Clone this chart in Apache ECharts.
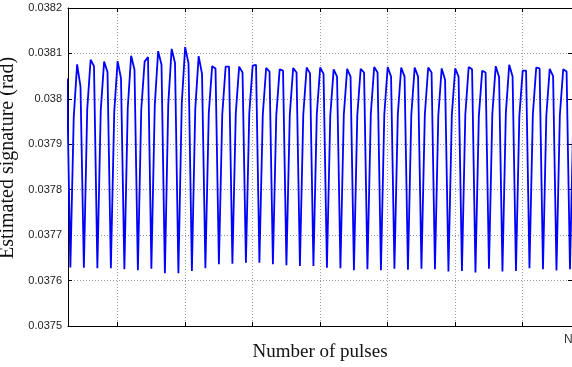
<!DOCTYPE html>
<html>
<head>
<meta charset="utf-8">
<script src="https://cdn.jsdelivr.net/npm/echarts@6/dist/echarts.min.js"></script>
<style>
  html, body { margin: 0; padding: 0; background: #fff; }
  #chart { width: 572px; height: 367px; }
</style>
</head>
<body>
<div id="chart"></div>
<script>
  // pulse index of the first sample drawn, and its value
  var firstPulse = 5;
  var firstValue = 0.038045;

  // one cycle = trough, rise, peak, fall (4 pulses)
  var troughVals = [
    0.037629, 0.037628, 0.037627, 0.037627, 0.037625, 0.037623, 0.037626, 0.037616,
    0.037616, 0.037621, 0.037627, 0.037636, 0.037637, 0.037639, 0.037639, 0.037636,
    0.037634, 0.037632, 0.037632, 0.037628, 0.037627, 0.037623, 0.037625, 0.037623,
    0.037626, 0.037624, 0.037626, 0.037625, 0.037620, 0.037621, 0.037618, 0.037626,
    0.037620, 0.037621, 0.037627, 0.037625, 0.037622, 0.037625
  ];
  var riseVals = [
    0.037960, 0.037978, 0.037975, 0.037972, 0.037980, 0.037976, 0.037985, 0.037988,
    0.037990, 0.037978, 0.037968, 0.037966, 0.037968, 0.037968, 0.037965, 0.037964,
    0.037965, 0.037966, 0.037966, 0.037964, 0.037965, 0.037964, 0.037966, 0.037966,
    0.037965, 0.037965, 0.037965, 0.037964, 0.037964, 0.037966, 0.037962, 0.037967,
    0.037968, 0.037962, 0.037965, 0.037964, 0.037964, 0.037965
  ];
  var peakVals = [
    0.038076, 0.038086, 0.038082, 0.038083, 0.038095, 0.038082, 0.038105, 0.038110,
    0.038114, 0.038094, 0.038072, 0.038071, 0.038071, 0.038073, 0.038068, 0.038065,
    0.038068, 0.038069, 0.038069, 0.038065, 0.038066, 0.038066, 0.038070, 0.038070,
    0.038069, 0.038069, 0.038069, 0.038067, 0.038067, 0.038070, 0.038062, 0.038072,
    0.038075, 0.038062, 0.038069, 0.038066, 0.038065
  ];
  var fallVals = [
    0.038027, 0.038072, 0.038059, 0.038045, 0.038064, 0.038092, 0.038075, 0.038079,
    0.038078, 0.038055, 0.038067, 0.038071, 0.038058, 0.038075, 0.038060, 0.038062,
    0.038058, 0.038056, 0.038055, 0.038049, 0.038049, 0.038058, 0.038058, 0.038049,
    0.038049, 0.038049, 0.038058, 0.038042, 0.038049, 0.038065, 0.038058, 0.038048,
    0.038049, 0.038062, 0.038067, 0.038050, 0.038060
  ];

  var yTicks = [0.0375, 0.0376, 0.0377, 0.0378, 0.0379, 0.038, 0.0381, 0.0382];

  var points = [[firstPulse, firstValue]];
  var p = firstPulse + 1;
  for (var k = 0; k < troughVals.length; k++) {
    points.push([p++, troughVals[k]]);
    points.push([p++, riseVals[k]]);
    if (k < peakVals.length) {
      points.push([p++, peakVals[k]]);
      points.push([p++, fallVals[k]]);
    }
  }

  var gridLine = { show: true, lineStyle: { color: '#9a9a9a', width: 1, type: [1, 2] } };
  var tickIn = { show: true, inside: true, length: 4, lineStyle: { color: '#000', width: 1 } };
  var blackLine = { show: true, lineStyle: { color: '#000', width: 1 } };

  var chart = echarts.init(document.getElementById('chart'), null, { renderer: 'canvas' });
  chart.setOption({
    animation: false,
    backgroundColor: '#fff',
    grid: { left: 68, right: 0, top: 8, bottom: 41, containLabel: false, outerBoundsMode: 'none' },
    xAxis: [{
      type: 'value',
      min: 5.3,
      max: 154.6,
      minInterval: 20,
      maxInterval: 20,
      axisLine: blackLine,
      axisTick: tickIn,
      axisLabel: { show: false },
      splitLine: gridLine,
      name: 'Number of pulses',
      nameLocation: 'middle',
      nameGap: 17,
      nameTextStyle: { fontFamily: 'Liberation Serif', fontSize: 19, color: '#111', verticalAlign: 'top' }
    }, {
      type: 'value',
      position: 'top',
      min: 5.3,
      max: 154.6,
      minInterval: 20,
      maxInterval: 20,
      axisLine: blackLine,
      axisTick: tickIn,
      axisLabel: { show: false },
      splitLine: { show: false }
    }],
    yAxis: [{
      type: 'value',
      min: yTicks[0],
      max: yTicks[yTicks.length - 1],
      interval: 0.0001,
      axisLine: blackLine,
      axisTick: tickIn,
      axisLabel: {
        margin: 6,
        fontFamily: 'Liberation Sans',
        fontSize: 11,
        color: '#222',
        formatter: function (v) { return String(+v.toFixed(4)); }
      },
      splitLine: gridLine,
      name: 'Estimated signature (rad)',
      nameLocation: 'middle',
      nameGap: 27,
      nameTextStyle: { fontFamily: 'Liberation Serif', fontSize: 20, color: '#111', padding: [0, 0, 0, 18] }
    }, {
      type: 'value',
      position: 'right',
      min: yTicks[0],
      max: yTicks[yTicks.length - 1],
      interval: 0.0001,
      axisLine: blackLine,
      axisTick: tickIn,
      axisLabel: { show: false },
      splitLine: { show: false }
    }],
    graphic: [{
      type: 'text',
      left: 564,
      top: 334,
      style: { text: 'N', fontFamily: 'Liberation Sans', fontSize: 12, fill: '#333' }
    }],
    series: [{
      type: 'line',
      xAxisIndex: 0,
      yAxisIndex: 0,
      data: points,
      showSymbol: false,
      lineStyle: { color: '#0000ff', width: 1.8 },
      clip: true
    }]
  });
</script>
</body>
</html>
